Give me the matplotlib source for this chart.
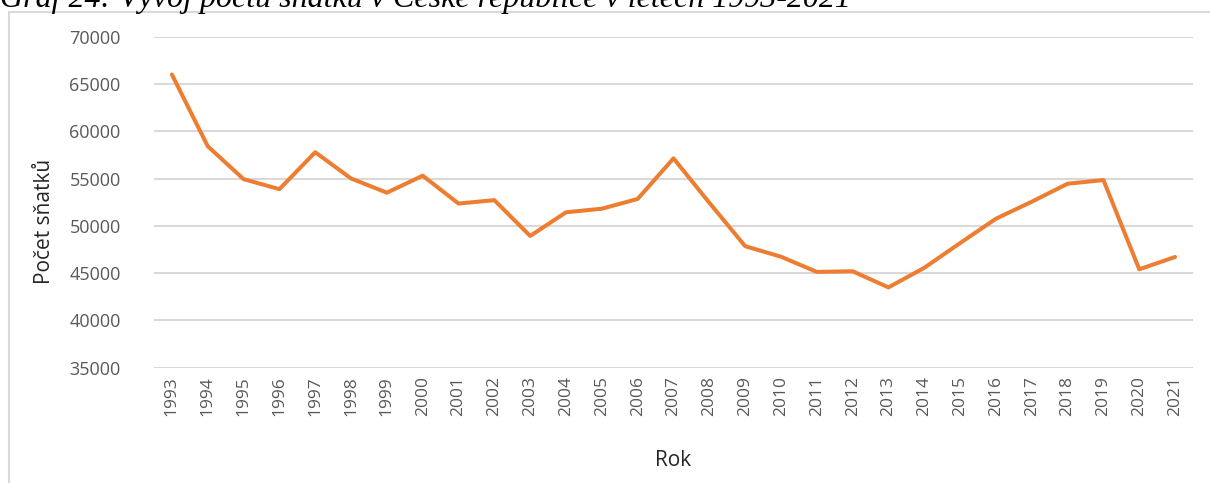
import matplotlib
matplotlib.use("Agg")
import matplotlib.pyplot as plt
from matplotlib.patches import Rectangle

years = [str(y) for y in range(1993, 2022)]
marriages = [66033, 58440, 54956, 53896, 57804, 55027, 53523, 55321, 52374, 52732,
             48943, 51447, 51829, 52860, 57157, 52457, 47862, 46746, 45137, 45206,
             43499, 45575, 48191, 50768, 52567, 54470, 54859, 45415, 46720]
y_ticks = [35000, 40000, 45000, 50000, 55000, 60000, 65000, 70000]

title = "Graf 24: Vývoj počtu sňatků v České republice v letech 1993-2021"
x_label = "Rok"
y_label = "Počet sňatků"

W, H = 1210, 483
fig = plt.figure(figsize=(W / 100, H / 100), dpi=100)

# chart frame (light gray border)
fig.patches.append(Rectangle((9 / W, -0.1), 1.2, 1.1 - 12 / H, transform=fig.transFigure,
                             fill=False, edgecolor="#d9d9d9", linewidth=1.5, zorder=0))

left, right = 154 / W, 1193 / W
top, bottom = 1 - 37 / H, 1 - 367.7 / H
ax = fig.add_axes([left, bottom, right - left, top - bottom])

x = list(range(len(years)))
ax.plot(x, marriages, color="#ED7D31", linewidth=2.9, solid_joinstyle="round",
        solid_capstyle="round", zorder=3, clip_on=False)

ax.set_xlim(-0.5, len(years) - 0.5)
ax.set_ylim(35000, 70000)
ax.set_yticks(y_ticks)
ax.set_yticklabels([str(v) for v in y_ticks], fontfamily="Open Sans", fontsize=13, color="#595959")
ax.set_xticks(x)
ax.set_xticklabels(years, rotation=90, fontfamily="Open Sans", fontsize=12.5, color="#595959")
ax.tick_params(axis="both", length=0)
ax.tick_params(axis="y", pad=24)
ax.tick_params(axis="x", pad=6)
ax.grid(axis="y", color="#d9d9d9", linewidth=1.5)
ax.set_axisbelow(True)
for s in ax.spines.values():
    s.set_visible(False)

fig.text((154 + 1193) / 2 / W, 1 - 460 / H, x_label, ha="center", va="center",
         fontfamily="Open Sans", fontsize=15, color="#262626")
fig.text(45 / W, 1 - 221 / H, y_label, ha="center", va="center", rotation=90,
         fontfamily="Open Sans", fontsize=15, color="#262626")

# title (cut off at top edge, as in the source image)
fig.text(0 / W, 1 - 7 / H, title, ha="left", va="baseline", fontfamily="Liberation Serif",
         fontstyle="italic", fontsize=23, color="#000000")

fig.savefig("out.png", dpi=100)
